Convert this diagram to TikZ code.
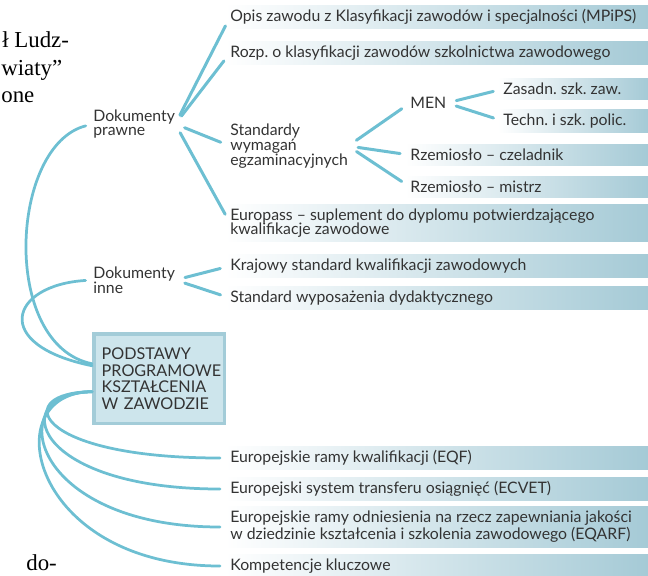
\documentclass[tikz,border=0pt]{standalone}
\usepackage{fontspec}
\setmainfont{Lato}
\newfontfamily\pagefont{Liberation Serif}
\usetikzlibrary{backgrounds, calc, positioning}

\definecolor{linkblue}{HTML}{6DBFD2}
\definecolor{barblue}{HTML}{A5CAD6}
\definecolor{boxfill}{HTML}{CDE5EC}
\definecolor{boxline}{HTML}{A3CCD8}
\definecolor{textgray}{HTML}{333333}

\begin{document}
\begin{tikzpicture}[x=0.02cm, y=-0.02cm,
  every node/.style={font=\fontsize{9}{8.4}\selectfont, text=textgray, inner sep=0pt},
  item/.style={anchor=west, align=left},
  podstawybox/.style={draw=boxline, line width=0.07cm, fill=boxfill, anchor=north west,
    align=left, text width=2.3cm, inner xsep=0.16cm, inner ysep=0.2cm,
    minimum height=1.8cm, font=\fontsize{9.2}{9.6}\selectfont},
  link/.style={draw=linkblue, line width=0.06cm, line cap=round,
    shorten <=0.2cm, shorten >=0.2cm},
  curve/.style={draw=linkblue, line width=0.055cm, line cap=round},
  bar/.style={left color=white, right color=barblue},
  pagetext/.style={font=\pagefont\fontsize{13}{13}\selectfont, text=black, anchor=west}]

  \useasboundingbox (0,0) rectangle (648,575);
  \coordinate (edge) at (648,0);

  % page text at the left
  \node[pagetext] (page1) at (2,40) {ł Ludz-};
  \node[pagetext] (page2) at (1,70) {wiaty”};
  \node[pagetext] (page3) at (1,97) {one};
  \node[pagetext] (page4) at (26,563) {do-};

  % documents
  \node[item] (prawne) at (93,124) {Dokumenty\\prawne};
  \node[item] (opis) at (230,17) {Opis zawodu z Klasyfikacji zawodów i specjalności (MPiPS)};
  \node[item] (rozp) at (230,53) {Rozp.\ o klasyfikacji zawodów szkolnictwa zawodowego};
  \node[item] (std) at (230,146) {Standardy\\wymagań\\egzaminacyjnych};
  \node[item] (men) at (410,103) {MEN};
  \node[item] (zas) at (503,89) {Zasadn.\ szk.\ zaw.};
  \node[item] (tech) at (503,121) {Techn.\ i szk.\ polic.};
  \node[item] (czel) at (410,155) {Rzemiosło -- czeladnik};
  \node[item] (mistrz) at (410,187) {Rzemiosło -- mistrz};
  \node[item] (europass) at (230,223) {Europass -- suplement do dyplomu potwierdzającego\\kwalifikacje zawodowe};

  \node[item] (inne) at (93,280) {Dokumenty\\inne};
  \node[item] (kraj) at (230,266) {Krajowy standard kwalifikacji zawodowych};
  \node[item] (wyp) at (230,298) {Standard wyposażenia dydaktycznego};

  \node[podstawybox] (podstawy) at (92,332) {PODSTAWY\\PROGRAMOWE\\KSZTAŁCENIA\\W ZAWODZIE};

  % european frameworks
  \node[item] (eqf) at (230,458) {Europejskie ramy kwalifikacji (EQF)};
  \node[item] (ecvet) at (230,489) {Europejski system transferu osiągnięć (ECVET)};
  \node[item] (eqarf) at (230,527) {Europejskie ramy odniesienia na rzecz zapewniania jakości\\w dziedzinie kształcenia i szkolenia zawodowego (EQARF)};
  \node[item] (komp) at (230,566) {Kompetencje kluczowe};

  \begin{scope}[on background layer]
    \foreach \n in {opis, rozp, zas, tech, czel, mistrz, europass, kraj, wyp, eqf, ecvet, eqarf, komp}
      \shade[bar] ($(\n.north west)+(-5,-4)$) rectangle ($(\n.south -| edge)+(0,4)$);
  \end{scope}

  \foreach \n in {opis, rozp, std, europass}
    \draw[link] (prawne.east) -- (\n.west);
  \foreach \n in {men, czel, mistrz}
    \draw[link] (std.east) -- (\n.west);
  \foreach \n in {zas, tech}
    \draw[link] (men.east) -- (\n.west);
  \foreach \n in {kraj, wyp}
    \draw[link] (inne.east) -- (\n.west);

  \draw[curve, shorten <=0.15cm] (prawne.west) .. controls (10,145) and (0,345) .. ([yshift=0.3cm]podstawy.west);
  \draw[curve, shorten <=0.15cm] (inne.west) .. controls (10,285) and (-10,345) .. ([yshift=0.26cm]podstawy.west);
  \foreach \n/\c in {eqf/12, ecvet/6, eqarf/0, komp/-6}
    \draw[curve, shorten >=0.2cm] ([yshift=-0.26cm]podstawy.west) .. controls (\c,392) and ($(\n.west)+(-200,0)$) .. (\n.west);
\end{tikzpicture}
\end{document}
